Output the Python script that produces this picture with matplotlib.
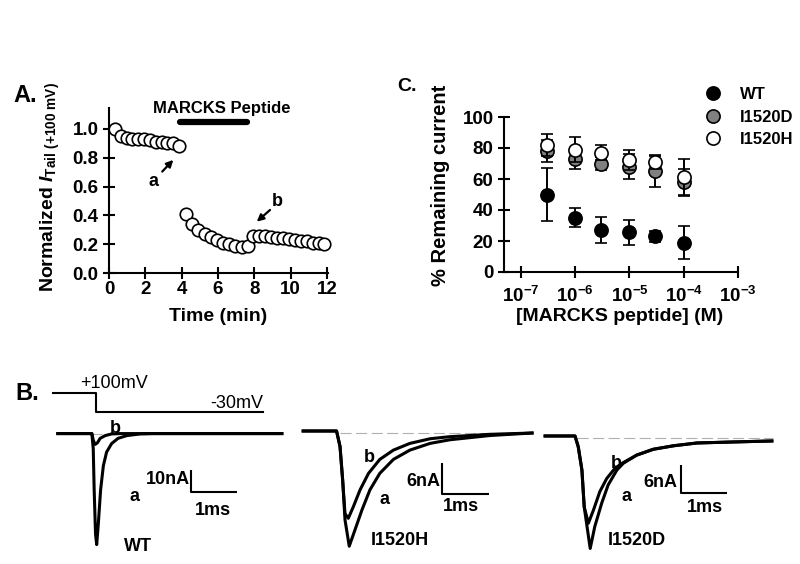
import numpy as np
import matplotlib
matplotlib.use("Agg")
import matplotlib.pyplot as plt
from matplotlib.lines import Line2D
from matplotlib.ticker import NullLocator

# ---- panel A: normalized tail current vs time ----
time_ctrl = [0.33, 0.65, 0.97, 1.29, 1.61, 1.93, 2.25, 2.57, 2.89, 3.21, 3.53, 3.85]
norm_ctrl = [1.00, 0.95, 0.94, 0.93, 0.93, 0.93, 0.92, 0.91, 0.91, 0.90, 0.90, 0.88]
time_pep = [4.24, 4.58, 4.92, 5.26, 5.60, 5.94, 6.28, 6.62, 6.96, 7.30, 7.64]
norm_pep = [0.41, 0.34, 0.30, 0.27, 0.25, 0.23, 0.21, 0.20, 0.19, 0.18, 0.19]
time_wash = [7.95, 8.28, 8.60, 8.93, 9.25, 9.58, 9.90, 10.23, 10.55, 10.88, 11.20, 11.53, 11.85]
norm_wash = [0.26, 0.26, 0.255, 0.25, 0.245, 0.24, 0.235, 0.23, 0.225, 0.22, 0.21, 0.205, 0.20]
peptide_span = [3.9, 7.6]

# ---- panel C: dose response ----
conc = [3e-7, 1e-6, 3e-6, 1e-5, 3e-5, 1e-4]
wt_mean = [50, 35, 27, 25.5, 23, 19]
wt_err = [17, 6, 8.5, 8, 3.5, 10.5]
d_mean = [78, 73, 70, 68, 65, 58]
d_err = [7, 6.5, 4, 8, 10, 8.5]
h_mean = [82, 79, 77, 72, 71, 61]
h_err = [7, 8, 5, 6.5, 4.5, 12]

# ---- panel B: current traces (ms, nA) ----
step_t = [-0.93, 0.0, 0.0, 3.63]
step_mv = [100, 100, -30, -30]

wt_a_t = [-0.83, -0.09, -0.06, -0.04, -0.01, 0.015, 0.05, 0.10, 0.16, 0.23, 0.34, 0.48, 0.67, 0.96, 1.24, 4.04]
wt_a_i = [0, 0, -6.7, -24.9, -44.5, -49.1, -40, -24.9, -14.2, -8.2, -4.4, -2.1, -0.9, -0.15, 0, 0]
wt_b_t = [-0.83, -0.09, -0.06, -0.02, 0.03, 0.09, 0.20, 0.34, 0.52, 4.04]
wt_b_i = [0, 0, -2.9, -4.8, -4.1, -2.1, -0.9, -0.15, 0, 0]

h_a_t = [-0.72, -0.01, 0.064, 0.12, 0.17, 0.26, 0.38, 0.53, 0.70, 0.91, 1.2, 1.55, 1.98, 2.4, 3.26, 4.15]
h_a_i = [0, 0, -3.0, -9.5, -17.2, -22.3, -19.2, -15.3, -11.4, -8.2, -5.5, -3.7, -2.4, -1.7, -0.87, -0.39]
h_b_t = [-0.72, -0.01, 0.064, 0.12, 0.17, 0.24, 0.35, 0.49, 0.67, 0.91, 1.2, 1.55, 1.98, 2.4, 3.26, 4.15]
h_b_i = [0, 0, -3.0, -9.5, -16.0, -16.9, -14.6, -11.4, -8.2, -5.5, -3.7, -2.4, -1.5, -1.1, -0.64, -0.39]

d_a_t = [-0.65, 0.0, 0.07, 0.15, 0.20, 0.33, 0.43, 0.58, 0.72, 0.91, 1.05, 1.34, 1.7, 2.14, 2.65, 3.37, 4.28]
d_a_i = [0, 0, -2.3, -7.3, -15.2, -24.1, -19.4, -14.4, -10.5, -7.3, -5.85, -4.1, -2.85, -2.1, -1.5, -1.3, -1.07]
d_b_t = [-0.65, 0.0, 0.07, 0.15, 0.20, 0.29, 0.40, 0.54, 0.69, 0.87, 1.05, 1.34, 1.7, 2.14, 2.65, 3.37, 4.28]
d_b_i = [0, 0, -2.3, -7.3, -15.2, -18.7, -15.9, -11.9, -9.1, -6.9, -5.7, -4.1, -2.85, -2.1, -1.5, -1.3, -1.07]

plt.rcParams['font.family'] = ['Liberation Sans', 'DejaVu Sans']
plt.rcParams['font.weight'] = 'bold'
plt.rcParams['mathtext.fontset'] = 'custom'
plt.rcParams['mathtext.rm'] = 'Liberation Sans:bold'
plt.rcParams['mathtext.bf'] = 'Liberation Sans:bold'
plt.rcParams['mathtext.it'] = 'Liberation Sans:italic:bold'
plt.rcParams['axes.linewidth'] = 1.5

W, H = 800, 564
fig = plt.figure(figsize=(W / 100, H / 100), dpi=100)


def px_axes(left, top, right, bottom):
    # place an axes by its pixel box
    return fig.add_axes([left / W, 1 - bottom / H, (right - left) / W, (bottom - top) / H])


def style_axes(ax):
    for s in ("top", "right"):
        ax.spines[s].set_visible(False)
    ax.tick_params(direction="inout", length=8, width=1.5, labelsize=13.5)
    for lab in ax.get_xticklabels() + ax.get_yticklabels():
        lab.set_fontweight("bold")


arrow_kw = dict(arrowstyle="-|>", lw=1.6, color="black", mutation_scale=10, shrinkA=0, shrinkB=0)

# ================= Panel A =================
axA = px_axes(109, 108, 328, 273)
axA.plot(time_ctrl + time_pep + time_wash, norm_ctrl + norm_pep + norm_wash,
         "o", ms=9, mfc="white", mec="black", mew=1.2, clip_on=False, zorder=3)
axA.set_xlim(0, 12.05)
axA.set_ylim(0, 1.145)
axA.set_xticks(range(0, 13, 2))
axA.set_yticks([0, 0.2, 0.4, 0.6, 0.8, 1.0])
axA.set_yticklabels(["0.0", "0.2", "0.4", "0.6", "0.8", "1.0"])
style_axes(axA)
axA.tick_params(axis="x", pad=2)
axA.set_xlabel("Time (min)", fontsize=14, fontweight="bold")
axA.xaxis.set_label_coords(0.5, -0.212)
axA.set_ylabel(r"Normalized $\mathit{I}_{\mathrm{Tail\ (+100\ mV)}}$", fontsize=14,
               fontweight="bold")
axA.yaxis.set_label_coords(-0.215, 0.524)
axA.plot(peptide_span, [1.05, 1.05], lw=4.5, color="black", solid_capstyle="round", clip_on=False)
axA.text(6.22, 1.11, "MARCKS Peptide", ha="center", va="baseline", fontsize=12, fontweight="bold")
axA.annotate("", xy=(3.54, 0.785), xytext=(2.93, 0.704), arrowprops=arrow_kw)
axA.text(2.44, 0.634, "a", ha="center", va="center", fontsize=13, fontweight="bold")
axA.annotate("", xy=(8.13, 0.356), xytext=(8.86, 0.4375), arrowprops=arrow_kw)
axA.text(9.26, 0.495, "b", ha="center", va="center", fontsize=13, fontweight="bold")
fig.text(13 / W, 1 - 102 / H, "A.", fontsize=17, fontweight="bold", va="baseline")

# ================= Panel C =================
axC = px_axes(504, 117, 738, 272)
axC.set_xscale("log")
eb = dict(fmt="o", ms=9.5, mec="black", mew=1.2, ecolor="black", elinewidth=1.4,
          capsize=4, capthick=1.4, clip_on=False)
axC.errorbar(conc, wt_mean, yerr=wt_err, mfc="black", zorder=3, **eb)
axC.errorbar(conc, d_mean, yerr=d_err, mfc="#808080", zorder=4, **eb)
axC.errorbar(conc, h_mean, yerr=h_err, mfc="white", zorder=5, **eb)
axC.set_xlim(10 ** -7.313, 1e-3)
axC.set_ylim(0, 100)
axC.set_yticks(range(0, 101, 20))
axC.set_xticks([1e-7, 1e-6, 1e-5, 1e-4, 1e-3])
axC.set_xticklabels([r"$10^{-7}$", r"$10^{-6}$", r"$10^{-5}$", r"$10^{-4}$", r"$10^{-3}$"])
axC.xaxis.set_minor_locator(NullLocator())
style_axes(axC)
axC.tick_params(axis="x", pad=6)
axC.set_xlabel("[MARCKS peptide] (M)", fontsize=14, fontweight="bold")
axC.xaxis.set_label_coords(0.496, -0.235)
axC.set_ylabel("% Remaining current", fontsize=14.5, fontweight="bold")
axC.yaxis.set_label_coords(-0.231, 0.56)
handles = [Line2D([], [], ls="none", marker="o", ms=9.5, mec="black", mew=1.2, mfc=c)
           for c in ("black", "#808080", "white")]
fig.legend(handles, ["WT", "I1520D", "I1520H"], loc="upper left",
           bbox_to_anchor=(704.5 / W, 1 - 87 / H), frameon=False,
           handlelength=1.0, handletextpad=1.1, labelspacing=0.45, borderpad=0,
           borderaxespad=0, prop=dict(weight="bold", size=12))
fig.text(397 / W, 1 - 91 / H, "C.", fontsize=14, fontweight="bold", va="baseline")

# ================= Panel B =================
fig.text(15 / W, 1 - 400 / H, "B.", fontsize=17, fontweight="bold", va="baseline")
trace_kw = dict(color="black", lw=2.2, solid_joinstyle="round")
ref_kw = dict(color="#b0b0b0", lw=0.8, dashes=(10, 4))
bar_kw = dict(color="black", lw=1.5, solid_capstyle="butt")
lab_fs = 13

# voltage protocol (ms, mV)
axV = px_axes(50, 370, 290, 420)
axV.plot(step_t, step_mv, color="black", lw=1.5)
axV.set_xlim(-1.0, 4.217)
axV.set_ylim(-84.7, 257.4)
axV.text(0.39, 168, "+100mV", ha="center", va="center", fontsize=13, fontweight="normal")
axV.text(3.63, 31.6, "-30mV", ha="right", va="center", fontsize=13, fontweight="normal")
axV.axis("off")

# WT
axW = px_axes(50, 375, 290, 560)
axW.plot([-0.1, 1.3], [0, 0], **ref_kw)
axW.plot(wt_a_t, wt_a_i, **trace_kw)
axW.plot(wt_b_t, wt_b_i, **trace_kw)
axW.plot([2.07, 2.07, 3.07], [-15.9, -25.9, -25.9], **bar_kw)
axW.set_xlim(-1.0, 4.217)
axW.set_ylim(-55.9, 25.9)
axW.text(0.43, 2.3, "b", ha="center", va="center", fontsize=lab_fs)
axW.text(0.83, -27.7, "a", ha="center", va="center", fontsize=lab_fs)
axW.text(0.91, -50, "WT", ha="center", va="center", fontsize=lab_fs)
axW.text(2.04, -20.5, "10nA", ha="right", va="center", fontsize=lab_fs)
axW.text(2.54, -34.1, "1ms", ha="center", va="center", fontsize=lab_fs)
axW.axis("off")

# I1520H
axH = px_axes(295, 400, 540, 560)
axH.plot([0.06, 4.15], [-0.39, -0.39], **ref_kw)
axH.plot(h_a_t, h_a_i, **trace_kw)
axH.plot(h_b_t, h_b_i, **trace_kw)
axH.plot([2.23, 2.23, 3.23], [-6.2, -12.2, -12.2], **bar_kw)
axH.set_xlim(-0.894, 4.319)
axH.set_ylim(-24.97, 6.0)
axH.text(0.68, -5.2, "b", ha="center", va="center", fontsize=lab_fs)
axH.text(1.02, -13.2, "a", ha="center", va="center", fontsize=lab_fs)
axH.text(2.19, -9.7, "6nA", ha="right", va="center", fontsize=lab_fs)
axH.text(2.64, -14.7, "1ms", ha="center", va="center", fontsize=lab_fs)
axH.text(1.34, -21.1, "I1520H", ha="center", va="center", fontsize=lab_fs)
axH.axis("off")

# I1520D
axD = px_axes(535, 400, 790, 560)
axD.plot([0.04, 4.3], [-0.43, -0.43], **ref_kw)
axD.plot(d_a_t, d_a_i, **trace_kw)
axD.plot(d_b_t, d_b_i, **trace_kw)
axD.plot([2.3, 2.3, 3.3], [-6.2, -12.2, -12.2], **bar_kw)
axD.set_xlim(-0.87, 4.674)
axD.set_ylim(-26.57, 7.71)
axD.text(0.89, -5.8, "b", ha="center", va="center", fontsize=lab_fs)
axD.text(1.13, -12.9, "a", ha="center", va="center", fontsize=lab_fs)
axD.text(2.22, -9.9, "6nA", ha="right", va="center", fontsize=lab_fs)
axD.text(2.83, -15.4, "1ms", ha="center", va="center", fontsize=lab_fs)
axD.text(1.35, -22.3, "I1520D", ha="center", va="center", fontsize=lab_fs)
axD.axis("off")

fig.savefig("out.png", dpi=100)
